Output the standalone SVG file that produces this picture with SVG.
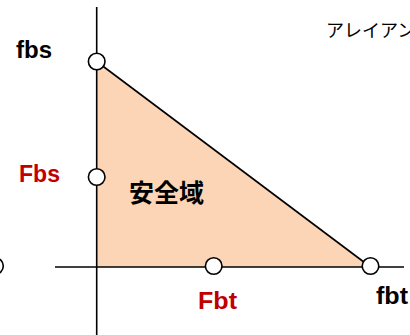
<svg xmlns="http://www.w3.org/2000/svg" width="410" height="335" viewBox="0 0 410 335">
<style>
.ax{stroke:#000;stroke-width:1.6;fill:none}
.pt{fill:#fff;stroke:#000;stroke-width:1.6}
.lb{font-family:"Liberation Sans",Arial,sans-serif;font-weight:bold;font-size:23px}
.red{fill:#C00000}
.blk{fill:#000}
.jp{font-family:"Noto Sans CJK JP",sans-serif}
</style>
<rect width="410" height="335" fill="#fff"/>
<g id="region">
<polygon points="96.7,61.5 96.7,267 370.5,267" fill="#FBD5B5"/>
</g>
<g id="connectors">
<line class="ax" x1="96.7" y1="7" x2="96.7" y2="335"/>
<line class="ax" x1="55" y1="267" x2="404" y2="267"/>
<line class="ax" x1="96.7" y1="61.5" x2="370.5" y2="267"/>
</g>
<g id="node-fbs"><circle class="pt" cx="96.7" cy="61.5" r="8.3"/><text class="lb blk" x="16" y="58" textLength="36" lengthAdjust="spacingAndGlyphs">fbs</text></g>
<g id="node-Fbs"><circle class="pt" cx="96.7" cy="177" r="8.3"/><text class="lb red" x="19" y="182" textLength="41" lengthAdjust="spacingAndGlyphs">Fbs</text></g>
<g id="node-Fbt"><circle class="pt" cx="213.7" cy="266" r="8.3"/><text class="lb red" x="198" y="309" textLength="39" lengthAdjust="spacingAndGlyphs">Fbt</text></g>
<g id="node-fbt"><circle class="pt" cx="370.5" cy="266" r="8.3"/><text class="lb blk" x="376" y="304" textLength="32" lengthAdjust="spacingAndGlyphs">fbt</text></g>
<g id="node-left"><circle class="pt" cx="-5" cy="266" r="8.3"/></g>
<g id="label-safe"><text class="jp" x="129" y="202" font-size="25" font-weight="bold" fill="#000">安全域</text></g>
<g id="label-top"><text class="jp" x="326" y="37" font-size="18" fill="#000">アレイアン</text></g>
</svg>
